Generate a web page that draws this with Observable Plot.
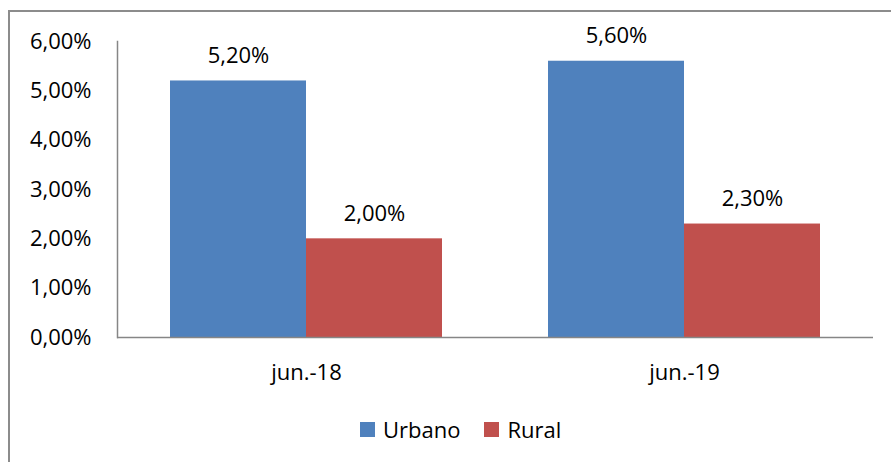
<!DOCTYPE html>
<html><head><meta charset="utf-8">
<script src="https://cdn.jsdelivr.net/npm/d3@7"></script>
<script src="https://cdn.jsdelivr.net/npm/@observablehq/plot@0.6"></script>
<style>
body{margin:0;background:#fff;font-family:"Open Sans",sans-serif;}
#wrap{position:relative;width:891px;height:462px;overflow:hidden;background:#fff;}
#frame{position:absolute;left:8px;top:10px;width:1000px;height:1000px;border-left:2px solid #8c8c8c;border-top:2px solid #8c8c8c;}
#chart{position:absolute;left:0;top:0;}
#legend{position:absolute;top:414px;left:360px;display:flex;align-items:center;font-size:22px;color:#000;font-family:"Open Sans",sans-serif;}
.item{display:flex;align-items:center;margin-right:24px;}
.sw{width:15px;height:15px;margin-right:8px;}
</style></head>
<body>
<div id="wrap"><div id="frame"></div><div id="chart"></div><div id="legend"></div></div>
<script>
const periods = ["jun.-18", "jun.-19"];
const series = ["Urbano", "Rural"];
const urbano = [5.2, 5.6];
const rural = [2.0, 2.3];
const yTicks = [0, 1, 2, 3, 4, 5, 6];
const colors = ["#4f81bd", "#c0504d"];

const fmt = v => v.toFixed(2).replace(".", ",") + "%";
const rows = periods.flatMap((p, i) => [
  {period: p, serie: series[0], value: urbano[i]},
  {period: p, serie: series[1], value: rural[i]}
]);

const chart = Plot.plot({
  width: 891, height: 400,
  marginLeft: 117, marginRight: 18, marginTop: 41, marginBottom: 63,
  style: {fontFamily: "Open Sans", fontSize: "22px", color: "#000", background: "transparent"},
  fx: {domain: periods, padding: 0, label: null, tickSize: 0, tickPadding: 27},
  x: {domain: series, axis: null, paddingInner: 0, paddingOuter: 0.38},
  y: {domain: [0, 6]},
  color: {domain: series, range: colors},
  marks: [
    Plot.barY(rows, {fx: "period", x: "serie", y: "value", fill: "serie"}),
    Plot.axisY(yTicks, {tickFormat: fmt, tickSize: 0, tickPadding: 26, label: null, fill: "#000", fontSize: 22}),
    Plot.frame({anchor: "left", stroke: "#868686", strokeWidth: 1.5, facetAnchor: "left"}),
    Plot.ruleY([0], {stroke: "#868686", strokeWidth: 1.5}),
    Plot.text(rows, {fx: "period", x: "serie", y: "value", text: d => fmt(d.value), dy: -25, fill: "#000", fontSize: 22})
  ]
});
document.getElementById("chart").appendChild(chart);

const legend = document.getElementById("legend");
series.forEach((s, i) => {
  const it = document.createElement("div");
  it.className = "item";
  const sw = document.createElement("div");
  sw.className = "sw"; sw.style.background = colors[i];
  const t = document.createElement("span"); t.textContent = s;
  it.appendChild(sw); it.appendChild(t);
  legend.appendChild(it);
});
</script>
</body></html>
